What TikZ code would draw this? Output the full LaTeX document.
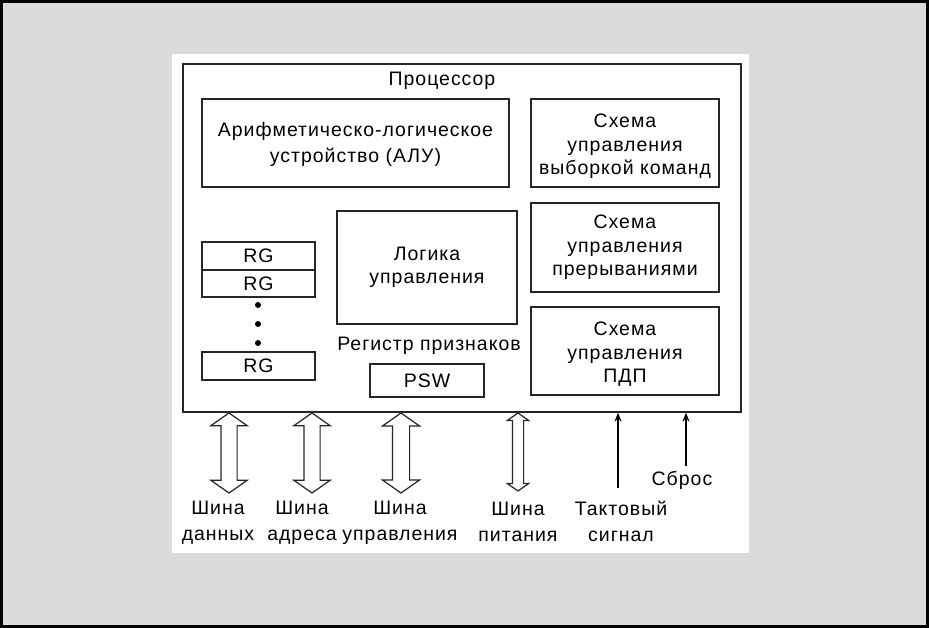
\documentclass[tikz,border=0pt]{standalone}
\usepackage{fontspec}
\setmainfont[LetterSpace=5]{Liberation Sans}
\usetikzlibrary{shapes.arrows,arrows.meta}
\tikzset{
  unit/.style={draw=black!85, line width=1.3pt, shape=rectangle, inner sep=0pt, align=center, font=\fontsize{19.5}{23.5}\selectfont},
  lbl/.style={inner sep=0pt, align=center, font=\fontsize{19.5}{26}\selectfont},
  bus/.style={draw=black!85, line width=1.2pt, shape=double arrow, rotate=90, inner sep=0pt, double arrow head extend=#1, double arrow tip angle=110}
}
\begin{document}
\begin{tikzpicture}[x=1pt, y=-1pt]
\fill[black] (0,0) rectangle (929,628);
\fill[black!14] (3,3) rectangle (926,625);
\fill[white] (172,54) rectangle (749,553);
\node (cpu) [unit, minimum width=558pt, minimum height=348pt] at (462,238) {};
\node (cputitle) [lbl] at (442,81) {Процессор};
\node (alu) [unit, minimum width=307pt, minimum height=88pt] at (355.5,143) {\rule{0pt}{17pt}Арифметическо-логическое\\[3pt]устройство (АЛУ)};
\node (fetch) [unit, minimum width=188pt, minimum height=88pt] at (625,143) {\rule{0pt}{21pt}Схема\\управления\\выборкой команд};
\node (irq) [unit, minimum width=188pt, minimum height=89pt] at (625,247.5) {Схема\\управления\\прерываниями};
\node (dma) [unit, minimum width=188pt, minimum height=88pt] at (625,351) {\rule{0pt}{20pt}Схема\\управления\\ПДП};
\node (logic) [unit, minimum width=180pt, minimum height=113pt] at (427,267.5) {Логика\\управления};
\node (rg1) [unit, minimum width=113pt, minimum height=28pt] at (258.5,256) {RG};
\node (rg2) [unit, minimum width=113pt, minimum height=27pt] at (258.5,283.5) {RG};
\node (rgn) [unit, minimum width=113pt, minimum height=28pt] at (258.5,366) {RG};
\foreach \y/\n in {305/a,324/b,343/c}
  \fill (258,\y) circle (3pt);
\node (flags) [lbl] at (429,346) {Регистр признаков};
\node (psw) [unit, minimum width=114pt, minimum height=33pt] at (427,380.5) {PSW};
\node (busd) [bus=10pt, minimum height=80pt] at (229,453) {\rule{0pt}{15pt}};
\node (busa) [bus=10pt, minimum height=80pt] at (312,453) {\rule{0pt}{15pt}};
\node (busc) [bus=10pt, minimum height=80pt] at (401,453) {\rule{0pt}{16pt}};
\node (busp) [bus=5pt, minimum height=78pt] at (518,452) {\rule{0pt}{10pt}};
\node (lbld) [lbl] at (218,523) {Шина\\данных};
\node (lbla) [lbl] at (302,523) {Шина\\адреса};
\node (lblc) [lbl] at (400,523) {Шина\\управления};
\node (lblp) [lbl] at (518,521.5) {Шина\\питания};
\node (clk) [lbl] at (621,521) {Тактовый\\сигнал};
\node (rst) [lbl] at (682,480) {Сброс};
\coordinate (clkend) at (618,488);
\coordinate (rstend) at (686,466);
\draw[-{Stealth[length=9pt,width=7pt]}, line width=1.2pt] (clkend) -- (clkend |- cpu.south);
\draw[-{Stealth[length=9pt,width=7pt]}, line width=1.2pt] (rstend) -- (rstend |- cpu.south);
\end{tikzpicture}
\end{document}
